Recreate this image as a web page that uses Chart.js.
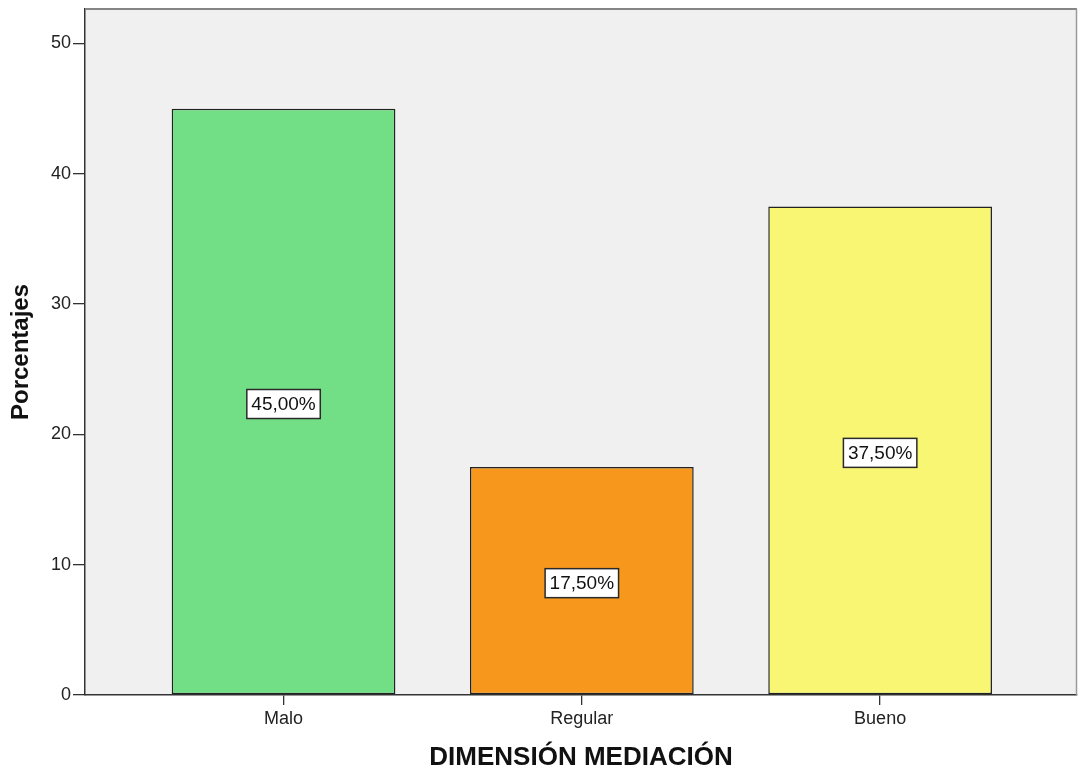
<!DOCTYPE html>
<html>
<head>
<meta charset="utf-8">
<script src="https://cdn.jsdelivr.net/npm/chart.js@4"></script>
<style>
  html, body { margin: 0; padding: 0; background: #ffffff; }
  #wrap { width: 1078px; height: 771px; }
</style>
</head>
<body>
<div id="wrap"><canvas id="c" width="1078" height="771"></canvas></div>
<script>
// Categories of the dimension and their percentage of respondents
const categories = ['Malo', 'Regular', 'Bueno'];
const percentages = [45.0, 17.5, 37.5];
const barColors = ['#72DE85', '#F7981D', '#F9F673'];
const yTicks = [0, 10, 20, 30, 40, 50];

const FONT = '"Liberation Sans", Arial, Helvetica, sans-serif';

// Plot background plus the light top/right frame lines
const frame = {
  id: 'frame',
  beforeDraw(chart) {
    const { ctx, chartArea: a } = chart;
    ctx.save();
    ctx.fillStyle = '#F0F0F0';
    ctx.fillRect(a.left, a.top, a.right - a.left, a.bottom - a.top);
    ctx.restore();
  },
  afterDatasetsDraw(chart) {
    const { ctx, chartArea: a } = chart;
    ctx.save();
    ctx.strokeStyle = '#858585';
    ctx.lineWidth = 2;
    ctx.beginPath();
    ctx.moveTo(a.left, a.top);
    ctx.lineTo(a.right, a.top);
    ctx.stroke();
    ctx.strokeStyle = '#9a9a9a';
    ctx.lineWidth = 1.5;
    ctx.beginPath();
    ctx.moveTo(a.right - 0.5, a.top);
    ctx.lineTo(a.right - 0.5, a.bottom);
    ctx.stroke();
    ctx.restore();
  }
};

// Boxed percentage label in the middle of each bar
const boxLabels = {
  id: 'boxLabels',
  afterDatasetsDraw(chart) {
    const { ctx } = chart;
    const meta = chart.getDatasetMeta(0);
    ctx.save();
    ctx.font = '19px ' + FONT;
    ctx.textAlign = 'center';
    ctx.textBaseline = 'middle';
    meta.data.forEach((bar, i) => {
      const text = percentages[i].toFixed(2).replace('.', ',') + '%';
      const { x, y, base } = bar.getProps(['x', 'y', 'base'], true);
      const cy = (y + base) / 2 + 2.5;
      const w = ctx.measureText(text).width + 9;
      const h = 29;
      ctx.fillStyle = '#ffffff';
      ctx.fillRect(x - w / 2, cy - h / 2, w, h);
      ctx.strokeStyle = '#2a2a2a';
      ctx.lineWidth = 1.5;
      ctx.strokeRect(x - w / 2, cy - h / 2, w, h);
      ctx.fillStyle = '#111111';
      ctx.fillText(text, x, cy + 1);
    });
    ctx.restore();
  }
};

new Chart(document.getElementById('c'), {
  type: 'bar',
  data: {
    datasets: [{
      data: percentages.map((v, i) => ({ x: i + 1, y: v })),
      backgroundColor: barColors,
      borderColor: '#222222',
      borderWidth: 1.5,
      borderSkipped: false,
      barPercentage: 0.75,
      categoryPercentage: 1.0
    }]
  },
  options: {
    responsive: false,
    animation: false,
    devicePixelRatio: 1,
    layout: { padding: { top: 9, right: 1, left: 0, bottom: 0 } },
    plugins: {
      legend: { display: false },
      tooltip: { enabled: false }
    },
    scales: {
      x: {
        type: 'linear',
        min: 0.3344,
        max: 3.66,
        offset: false,
        afterBuildTicks(scale) {
          scale.ticks = categories.map((_, i) => ({ value: i + 1 }));
        },
        afterFit(scale) {
          scale.height = 76;
          scale.paddingLeft = 0;
          scale.paddingRight = 0;
        },
        ticks: {
          autoSkip: false,
          maxRotation: 0,
          padding: 3,
          color: '#222222',
          font: { family: FONT, size: 18 },
          callback: (v) => categories[Math.round(v) - 1] || ''
        },
        grid: {
          offset: false,
          drawOnChartArea: false,
          drawTicks: true,
          tickLength: 10,
          color: '#333333',
          lineWidth: 1.3
        },
        border: { display: true, color: '#333333', width: 1.5 },
        title: {
          display: true,
          text: 'DIMENSIÓN MEDIACIÓN',
          color: '#111111',
          padding: { top: 0, bottom: 0 },
          font: { family: FONT, size: 26, weight: 'bold', lineHeight: 1 }
        }
      },
      y: {
        min: 0,
        max: 52.65,
        afterBuildTicks(scale) {
          scale.ticks = yTicks.map(v => ({ value: v }));
        },
        afterFit(scale) {
          scale.width = 85;
          scale.paddingTop = 0;
          scale.paddingBottom = 0;
        },
        ticks: {
          padding: 2,
          color: '#222222',
          font: { family: FONT, size: 18 }
        },
        grid: {
          drawOnChartArea: false,
          drawTicks: true,
          tickLength: 12,
          color: '#333333',
          lineWidth: 1.3
        },
        border: { display: true, color: '#333333', width: 1.5 },
        title: {
          display: true,
          text: 'Porcentajes',
          color: '#111111',
          padding: { top: 9, bottom: 0 },
          font: { family: FONT, size: 24, weight: 'bold', lineHeight: 1 }
        }
      }
    }
  },
  plugins: [frame, boxLabels]
});
</script>
</body>
</html>
